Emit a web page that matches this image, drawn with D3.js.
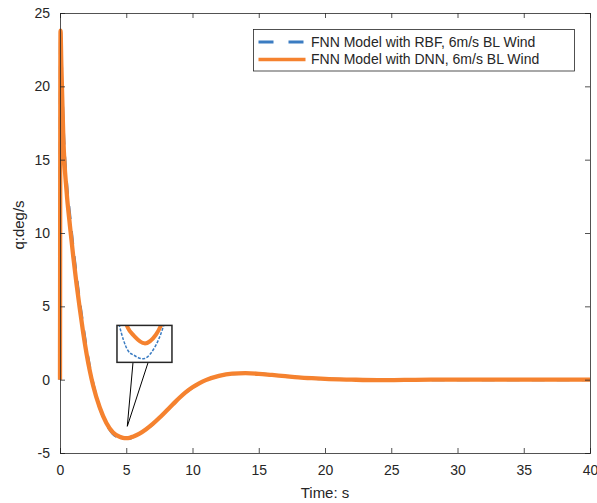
<!DOCTYPE html>
<html>
<head>
<meta charset="utf-8">
<script src="https://cdn.jsdelivr.net/npm/d3@7"></script>
<style>
  body { margin: 0; background: #fff; }
  svg text { font-family: "Liberation Sans", Arial, sans-serif; fill: #262626; }
</style>
</head>
<body>
<div id="chart"></div>
<script>
const time = [0, 0.04, 0.1, 0.25, 0.5, 0.75, 1.0, 1.25, 1.5, 1.75, 2.0, 2.25, 2.5, 3.0, 3.5, 4.0,
  4.5, 4.75, 5.0, 5.25, 5.5, 6.0, 6.5, 7.0, 7.5, 8.0, 8.5, 9.0, 9.5, 10.0, 10.5, 11.0, 12.0, 13.0, 14.0, 15.0,
  16.0, 17.0, 18.0, 19.0, 20.0, 22.0, 24.0, 26.0, 28.0, 30.0, 35.0, 40.0];
const qRbf = [0, 23.8, 21.8, 17.2, 13.4, 11.1, 8.9, 7.0, 5.2, 3.6, 2.1, 0.8, -0.3, -1.9, -3.0, -3.68,
  -3.962, -4.023, -4.034, -3.995, -3.906, -3.69, -3.39, -3.03, -2.61, -2.16, -1.71, -1.26, -0.86, -0.53, -0.26, -0.04,
  0.26, 0.41, 0.44, 0.4, 0.32, 0.24, 0.16, 0.1, 0.05, 0, -0.03, -0.02, 0, 0, 0, 0];
const qDnn = [0, 23.8, 21.5, 16.5, 12.8, 10.5, 8.4, 6.5, 4.8, 3.2, 1.8, 0.6, -0.4, -1.9, -2.95, -3.6,
  -3.89, -3.965, -3.99, -3.965, -3.89, -3.68, -3.38, -3.02, -2.6, -2.15, -1.7, -1.25, -0.85, -0.52, -0.25, -0.03,
  0.26, 0.41, 0.44, 0.4, 0.32, 0.24, 0.16, 0.1, 0.05, 0, -0.03, -0.02, 0, 0, 0, 0];

const xTicks = [0, 5, 10, 15, 20, 25, 30, 35, 40];
const yTicks = [-5, 0, 5, 10, 15, 20, 25];
const seriesNames = ["FNN Model with RBF, 6m/s BL Wind", "FNN Model with DNN, 6m/s BL Wind"];

// zoom inset: where it sits (main data units), what it shows, and where it points
const insetBoxT = [4.3, 8.45];
const insetBoxQ = [1.18, 3.7];
const insetT = [4.4, 5.6];
const insetQ = [-4.045, -3.938];
const insetLinkT = [4.75, 5.08];
const insetTarget = [5.08, -3.18];

const colors = ["#3b7cc2", "#f5822f"];
const width = 597;
const height = 503;
const marginTop = 13;
const marginRight = 7;
const marginBottom = 50;
const marginLeft = 60;
const tickLen = 5;

const svg = d3.select("#chart").append("svg")
  .attr("width", width)
  .attr("height", height);

const x = d3.scaleLinear().domain([0, 40]).range([marginLeft, width - marginRight]);
const y = d3.scaleLinear().domain([-5, 25]).range([height - marginBottom, marginTop]);

const rbf = time.map((t, i) => [t, qRbf[i]]);
const dnn = time.map((t, i) => [t, qDnn[i]]);

const line = d3.line().x((d) => x(d[0])).y((d) => y(d[1])).curve(d3.curveMonotoneX);

const plot = svg.append("g");
plot.append("path").attr("d", line(rbf))
  .attr("fill", "none").attr("stroke", colors[0]).attr("stroke-width", 3)
  .attr("stroke-dasharray", "13,12");
plot.append("path").attr("d", line(dnn))
  .attr("fill", "none").attr("stroke", colors[1]).attr("stroke-width", 4.3)
  .attr("stroke-linejoin", "round");

// axes, MATLAB style box with inward ticks
const axisColor = "#262626";
const plain = (d) => String(d);
const axBottom = svg.append("g").attr("transform", `translate(0,${y.range()[0]})`)
  .call(d3.axisBottom(x).tickValues(xTicks).tickSize(-tickLen).tickPadding(9).tickFormat(plain));
const axTop = svg.append("g").attr("transform", `translate(0,${y.range()[1]})`)
  .call(d3.axisTop(x).tickValues(xTicks).tickSize(-tickLen).tickFormat(""));
const axLeft = svg.append("g").attr("transform", `translate(${x.range()[0]},0)`)
  .call(d3.axisLeft(y).tickValues(yTicks).tickSize(-tickLen).tickPadding(10).tickFormat(plain));
const axRight = svg.append("g").attr("transform", `translate(${x.range()[1]},0)`)
  .call(d3.axisRight(y).tickValues(yTicks).tickSize(-tickLen).tickFormat(""));

[axBottom, axTop, axLeft, axRight].forEach((g) => {
  g.select(".domain").attr("stroke", axisColor).attr("stroke-width", 0.8);
  g.selectAll(".tick line").attr("stroke", axisColor).attr("stroke-width", 0.8);
  g.selectAll(".tick text").attr("font-size", 14).attr("fill", axisColor)
    .attr("font-family", '"Liberation Sans", Arial, sans-serif');
});
axBottom.selectAll(".tick text").attr("dy", "0.9em");

svg.append("text")
  .attr("x", (x.range()[0] + x.range()[1]) / 2)
  .attr("y", 498)
  .attr("text-anchor", "middle")
  .attr("font-size", 15)
  .text("Time: s");

svg.append("text")
  .attr("transform", `translate(24,${(y.range()[0] + y.range()[1]) / 2 - 8}) rotate(-90)`)
  .attr("text-anchor", "middle")
  .attr("font-size", 15)
  .text("q:deg/s");

// inset
const ix = d3.scaleLinear().domain(insetT).range([x(insetBoxT[0]), x(insetBoxT[1])]);
const iy = d3.scaleLinear().domain(insetQ).range([y(insetBoxQ[0]), y(insetBoxQ[1])]);

const linkG = svg.append("g").attr("stroke", "#000").attr("stroke-width", 1);
insetLinkT.forEach((t) => {
  linkG.append("line")
    .attr("x1", ix(t)).attr("y1", iy(insetQ[0]))
    .attr("x2", x(insetTarget[0])).attr("y2", y(insetTarget[1]));
});

svg.append("clipPath").attr("id", "insetClip")
  .append("rect")
  .attr("x", ix.range()[0]).attr("y", iy.range()[1])
  .attr("width", ix.range()[1] - ix.range()[0])
  .attr("height", iy.range()[0] - iy.range()[1]);

svg.append("rect")
  .attr("x", ix.range()[0]).attr("y", iy.range()[1])
  .attr("width", ix.range()[1] - ix.range()[0])
  .attr("height", iy.range()[0] - iy.range()[1])
  .attr("fill", "#fff");

const insetLine = d3.line().x((d) => ix(d[0])).y((d) => iy(d[1])).curve(d3.curveNatural);
const insetG = svg.append("g").attr("clip-path", "url(#insetClip)");
insetG.append("path").attr("d", insetLine(rbf.filter((d) => d[0] >= 4 && d[0] <= 6)))
  .attr("fill", "none").attr("stroke", colors[0]).attr("stroke-width", 1.5)
  .attr("stroke-dasharray", "3,1.5");
insetG.append("path").attr("d", insetLine(dnn.filter((d) => d[0] >= 4 && d[0] <= 6)))
  .attr("fill", "none").attr("stroke", colors[1]).attr("stroke-width", 4);

svg.append("rect")
  .attr("x", ix.range()[0]).attr("y", iy.range()[1])
  .attr("width", ix.range()[1] - ix.range()[0])
  .attr("height", iy.range()[0] - iy.range()[1])
  .attr("fill", "none").attr("stroke", "#262626").attr("stroke-width", 1.5);

// legend
const legend = svg.append("g").attr("transform", "translate(253.5,29.5)");
legend.append("rect")
  .attr("width", 321).attr("height", 41.5)
  .attr("fill", "#fff").attr("stroke", axisColor).attr("stroke-width", 0.8);
seriesNames.forEach((name, i) => {
  const ly = 12.5 + i * 17.5;
  legend.append("line")
    .attr("x1", 5).attr("x2", 52).attr("y1", ly).attr("y2", ly)
    .attr("stroke", colors[i]).attr("stroke-width", i === 0 ? 3 : 3.5)
    .attr("stroke-dasharray", i === 0 ? "15,15" : null);
  legend.append("text")
    .attr("x", 57.5).attr("y", ly).attr("dy", "0.35em")
    .attr("font-size", 14)
    .text(name);
});
</script>
</body>
</html>
